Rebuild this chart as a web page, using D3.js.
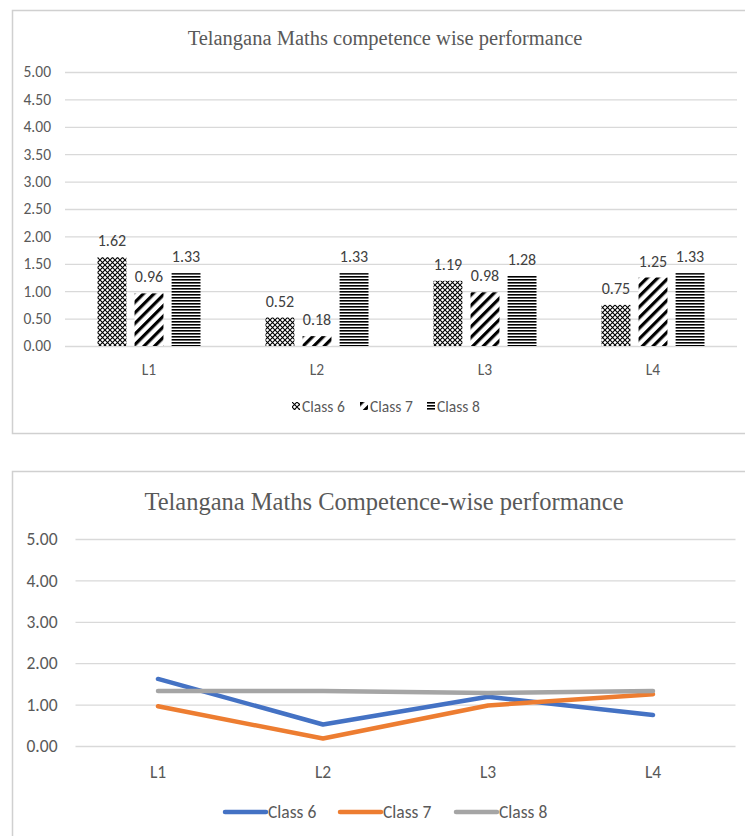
<!DOCTYPE html>
<html>
<head>
<meta charset="utf-8">
<script src="https://cdn.jsdelivr.net/npm/d3@7"></script>
<style>
  html, body { margin: 0; padding: 0; background: #fff; }
  svg { display: block; }
</style>
</head>
<body>
<svg id="chart" width="745" height="836"></svg>
<script>
// Competence levels and per-class scores
const categories = ["L1", "L2", "L3", "L4"];
const seriesNames = ["Class 6", "Class 7", "Class 8"];
const class6 = [1.62, 0.52, 1.19, 0.75];
const class7 = [0.96, 0.18, 0.98, 1.25];
const class8 = [1.33, 1.33, 1.28, 1.33];
const barTicks = [0, 0.5, 1, 1.5, 2, 2.5, 3, 3.5, 4, 4.5, 5];
const lineTicks = [0, 1, 2, 3, 4, 5];
const barTitle = "Telangana Maths competence wise performance";
const lineTitle = "Telangana Maths Competence-wise performance";

const seriesValues = [class6, class7, class8];
const lineColors = ["#4472C4", "#ED7D31", "#A5A5A5"];
const patternIds = ["pat-class6", "pat-class7", "pat-class8"];

const uiFont = "Carlito, Lato, 'Open Sans', sans-serif";
const titleFont = "'Liberation Serif', 'DejaVu Serif', serif";
const textColor = "#595959";
const gridColor = "#d9d9d9";

const svg = d3.select("#chart");

// ---- fill patterns for the bars ----
const defs = svg.append("defs");

// Class 6: diamond lattice
const p6 = defs.append("pattern").attr("id", patternIds[0])
  .attr("patternUnits", "userSpaceOnUse").attr("width", 5).attr("height", 5);
p6.append("rect").attr("width", 5).attr("height", 5).attr("fill", "#fff");
p6.append("path").attr("d", "M0,0 L5,5 M5,0 L0,5")
  .attr("stroke", "#000").attr("stroke-width", 1.1);

// Class 7: wide upward diagonal stripes
const p7 = defs.append("pattern").attr("id", patternIds[1])
  .attr("patternUnits", "userSpaceOnUse").attr("width", 7.5).attr("height", 7.5)
  .attr("patternTransform", "rotate(45)");
p7.append("rect").attr("width", 7.5).attr("height", 7.5).attr("fill", "#fff");
p7.append("rect").attr("width", 3.2).attr("height", 7.5).attr("fill", "#000");

// Class 8: dark horizontal lines
const p8 = defs.append("pattern").attr("id", patternIds[2])
  .attr("patternUnits", "userSpaceOnUse").attr("width", 4).attr("height", 3);
p8.append("rect").attr("width", 4).attr("height", 3).attr("fill", "#fff");
p8.append("rect").attr("width", 4).attr("height", 1.6).attr("fill", "#000");

// ---- chart frames ----
svg.append("rect").attr("x", 12.5).attr("y", 10.5).attr("width", 800).attr("height", 423)
  .attr("fill", "none").attr("stroke", "#d0d0d0").attr("stroke-width", 1.5);
svg.append("rect").attr("x", 12.5).attr("y", 471.5).attr("width", 800).attr("height", 420)
  .attr("fill", "none").attr("stroke", "#d0d0d0").attr("stroke-width", 1.5);

// ================= Clustered bar chart =================
const bar = svg.append("g");
const by = d3.scaleLinear().domain([0, 5]).range([346, 72]);
const bx = d3.scaleBand().domain(categories).range([65, 737]);
const bInner = d3.scaleBand().domain(seriesNames).range([32.5, 135.5]).paddingInner(0.22);

bar.append("text").attr("x", 385).attr("y", 45).attr("text-anchor", "middle")
  .attr("font-family", titleFont).attr("font-size", 20.5).attr("fill", textColor)
  .text(barTitle);

const barAxis = d3.axisLeft(by).tickValues(barTicks).tickFormat(d3.format(".2f"))
  .tickSize(-(737 - 65)).tickPadding(14);
const bAxisG = bar.append("g").attr("transform", "translate(65,0)").call(barAxis);
bAxisG.select(".domain").remove();
bAxisG.selectAll(".tick line").attr("stroke", gridColor).attr("stroke-width", 1.3);
bAxisG.selectAll(".tick text").attr("font-family", uiFont).attr("font-size", 15.5)
  .attr("fill", textColor);

categories.forEach((cat, ci) => {
  seriesNames.forEach((s, si) => {
    const v = seriesValues[si][ci];
    const x0 = bx(cat) + bInner(s);
    bar.append("rect")
      .attr("x", x0).attr("y", by(v))
      .attr("width", bInner.bandwidth()).attr("height", by(0) - by(v))
      .attr("fill", `url(#${patternIds[si]})`);
    bar.append("text")
      .attr("x", x0 + bInner.bandwidth() / 2).attr("y", by(v) - 11)
      .attr("text-anchor", "middle")
      .attr("font-family", uiFont).attr("font-size", 16).attr("fill", "#404040")
      .text(v.toFixed(2));
  });
  bar.append("text").attr("x", bx(cat) + bx.bandwidth() / 2).attr("y", 375)
    .attr("text-anchor", "middle").attr("font-family", uiFont).attr("font-size", 15.5)
    .attr("fill", textColor).text(cat);
});

// legend
const barLegendX = [292, 360, 427];
seriesNames.forEach((s, i) => {
  const g = bar.append("g").attr("transform", `translate(${barLegendX[i]},402)`);
  g.append("rect").attr("width", 8).attr("height", 8).attr("fill", `url(#${patternIds[i]})`);
  g.append("text").attr("x", 10).attr("y", 9.5).attr("font-family", uiFont)
    .attr("font-size", 15.5).attr("fill", textColor).text(s);
});

// ================= Line chart =================
const line = svg.append("g");
const ly = d3.scaleLinear().domain([0, 5]).range([746, 539]);
const lx = d3.scalePoint().domain(categories).range([75.5, 735.5]).padding(0.5);

line.append("text").attr("x", 384).attr("y", 510).attr("text-anchor", "middle")
  .attr("font-family", titleFont).attr("font-size", 24.5).attr("fill", textColor)
  .text(lineTitle);

const lineAxis = d3.axisLeft(ly).tickValues(lineTicks).tickFormat(d3.format(".2f"))
  .tickSize(-(735.5 - 75.5)).tickPadding(18);
const lAxisG = line.append("g").attr("transform", "translate(75.5,0)").call(lineAxis);
lAxisG.select(".domain").remove();
lAxisG.selectAll(".tick line").attr("stroke", gridColor).attr("stroke-width", 1.3);
lAxisG.selectAll(".tick text").attr("font-family", uiFont).attr("font-size", 17.5)
  .attr("fill", textColor);

categories.forEach(cat => {
  line.append("text").attr("x", lx(cat)).attr("y", 778).attr("text-anchor", "middle")
    .attr("font-family", uiFont).attr("font-size", 17.5).attr("fill", textColor).text(cat);
});

const lineGen = d3.line().x((d, i) => lx(categories[i])).y(d => ly(d));
seriesValues.forEach((vals, i) => {
  line.append("path").datum(vals).attr("d", lineGen)
    .attr("fill", "none").attr("stroke", lineColors[i]).attr("stroke-width", 4.5)
    .attr("stroke-linejoin", "round").attr("stroke-linecap", "round");
});

const lineLegendX = [225, 340, 456];
seriesNames.forEach((s, i) => {
  const g = line.append("g").attr("transform", `translate(${lineLegendX[i]},812)`);
  g.append("line").attr("x1", 0).attr("x2", 41).attr("y1", 0).attr("y2", 0)
    .attr("stroke", lineColors[i]).attr("stroke-width", 4.5).attr("stroke-linecap", "round");
  g.append("text").attr("x", 43).attr("y", 6).attr("font-family", uiFont)
    .attr("font-size", 17.5).attr("fill", textColor).text(s);
});
</script>
</body>
</html>
